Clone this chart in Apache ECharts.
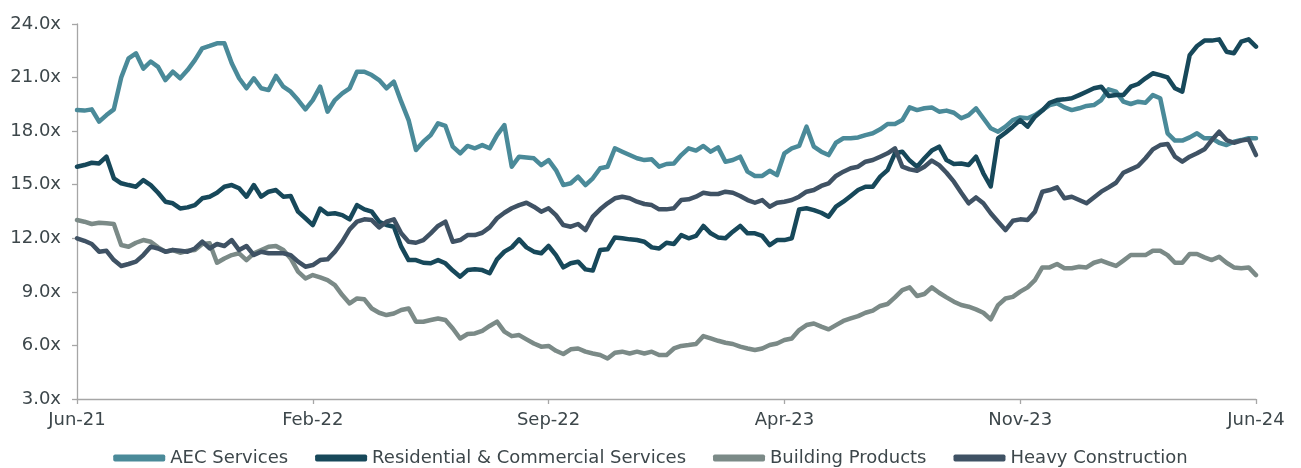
<!DOCTYPE html>
<html>
<head>
<meta charset="utf-8">
<script src="https://cdn.jsdelivr.net/npm/echarts@6/dist/echarts.min.js"></script>
<style>
html,body{margin:0;padding:0;background:#fff;}
#chart{width:1301px;height:468px;}
</style>
</head>
<body>
<div id="chart"></div>
<script>
const seriesNames = ['AEC Services','Residential & Commercial Services','Building Products','Heavy Construction'];
const tickLabels = ['Jun-21','Feb-22','Sep-22','Apr-23','Nov-23','Jun-24'];
const yTicks = [3,6,9,12,15,18,21,24];

const aec = [19.18,19.15,19.22,18.53,18.9,19.22,21.0,22.08,22.36,21.5,21.9,21.6,20.86,21.33,20.96,21.42,21.98,22.64,22.77,22.92,22.92,21.8,20.96,20.4,20.96,20.4,20.3,
21.09,20.49,20.21,19.74,19.22,19.74,20.49,19.09,19.74,20.12,20.4,21.33,21.33,21.14,20.86,20.4,20.77,19.65,18.62,16.94,17.41,17.78,18.44,18.29,17.13,16.76,17.17,
17.04,17.22,17.04,17.78,18.34,16.01,16.57,16.53,16.48,16.1,16.38,15.82,14.98,15.08,15.45,14.98,15.36,15.92,16.01,17.04,16.85,16.66,16.48,16.38,16.42,16.01,16.16,
16.19,16.66,17.04,16.91,17.17,16.85,17.09,16.29,16.38,16.57,15.73,15.49,15.49,15.78,15.54,16.76,17.04,17.17,18.25,17.13,16.85,16.66,17.35,17.6,17.6,17.65,17.78,
17.88,18.1,18.4,18.4,18.62,19.33,19.18,19.28,19.33,19.09,19.15,19.03,18.72,18.9,19.28,18.72,18.16,17.97,18.25,18.62,18.77,18.72,18.9,19.18,19.46,19.56,19.33,
19.18,19.28,19.41,19.46,19.74,20.34,20.21,19.65,19.52,19.65,19.59,20.02,19.84,17.88,17.47,17.47,17.65,17.88,17.6,17.6,17.35,17.22,17.41,17.5,17.6,17.6];

const residential = [16.01,16.1,16.23,16.19,16.57,15.36,15.08,14.98,14.89,15.26,14.98,14.55,14.05,13.96,13.67,13.73,13.86,14.24,14.33,14.55,14.89,14.98,14.8,14.33,14.98,14.33,14.61,
14.7,14.33,14.37,13.49,13.12,12.74,13.67,13.36,13.4,13.3,13.06,13.86,13.62,13.49,12.93,12.74,12.65,11.53,10.78,10.78,10.63,10.6,10.78,10.6,10.19,9.85,10.22,
10.26,10.22,10.04,10.82,11.25,11.49,11.94,11.49,11.25,11.16,11.57,11.06,10.37,10.6,10.69,10.26,10.19,11.34,11.38,12.05,12.0,11.94,11.9,11.81,11.49,11.43,11.75,
11.68,12.18,12.0,12.13,12.69,12.28,12.05,12.0,12.37,12.69,12.28,12.28,12.13,11.62,11.9,11.9,12.0,13.62,13.68,13.58,13.43,13.21,13.77,14.05,14.37,14.7,14.89,
14.89,15.45,15.82,16.76,16.85,16.35,16.01,16.48,16.91,17.13,16.38,16.16,16.19,16.1,16.57,15.64,14.9,17.6,17.91,18.25,18.62,18.25,18.81,19.15,19.59,19.74,19.78,
19.84,20.02,20.21,20.4,20.49,19.97,20.02,20.02,20.49,20.64,20.96,21.24,21.14,21.01,20.4,20.21,22.26,22.77,23.07,23.07,23.14,22.45,22.36,23.01,23.14,22.73];

const buildingProducts = [13.02,12.93,12.8,12.87,12.84,12.8,11.62,11.53,11.75,11.9,11.81,11.49,11.25,11.34,11.19,11.3,11.34,11.68,11.72,10.63,10.87,11.06,11.16,10.78,11.16,11.34,11.53,
11.57,11.34,10.87,10.13,9.75,9.94,9.81,9.66,9.38,8.82,8.35,8.63,8.58,8.07,7.83,7.7,7.79,7.98,8.07,7.33,7.33,7.42,7.51,7.42,6.95,6.39,6.64,
6.67,6.82,7.09,7.33,6.77,6.52,6.58,6.34,6.11,5.93,5.97,5.7,5.52,5.78,5.83,5.65,5.55,5.46,5.27,5.59,5.65,5.55,5.65,5.55,5.65,5.46,5.46,
5.83,5.97,6.02,6.08,6.52,6.39,6.26,6.15,6.08,5.93,5.83,5.74,5.83,6.02,6.11,6.3,6.39,6.86,7.14,7.23,7.05,6.9,7.14,7.37,7.51,7.64,7.83,
7.95,8.21,8.32,8.69,9.1,9.25,8.77,8.88,9.25,8.95,8.69,8.45,8.26,8.17,8.02,7.83,7.46,8.26,8.63,8.72,9.01,9.25,9.66,10.37,10.37,10.56,10.32,
10.32,10.41,10.37,10.63,10.75,10.6,10.45,10.75,11.06,11.06,11.06,11.3,11.3,11.06,10.63,10.63,11.12,11.12,10.93,10.78,10.97,10.63,10.37,10.32,10.37,9.94];

const heavy = [12.0,11.86,11.68,11.25,11.3,10.78,10.45,10.56,10.69,11.06,11.53,11.43,11.25,11.34,11.3,11.25,11.43,11.81,11.43,11.68,11.57,11.9,11.34,11.57,11.06,11.25,11.16,
11.16,11.16,11.06,10.69,10.41,10.5,10.78,10.82,11.25,11.81,12.5,12.93,13.06,13.02,12.61,12.93,13.06,12.28,11.81,11.75,11.9,12.28,12.69,12.93,11.81,11.9,12.18,
12.18,12.31,12.61,13.12,13.43,13.68,13.86,13.99,13.77,13.49,13.68,13.3,12.74,12.65,12.8,12.46,13.21,13.62,13.96,14.24,14.33,14.24,14.05,13.92,13.86,13.62,13.62,
13.68,14.14,14.18,14.33,14.55,14.48,14.48,14.61,14.55,14.37,14.14,13.99,14.14,13.77,13.99,14.05,14.14,14.33,14.61,14.7,14.93,15.08,15.49,15.73,15.92,16.01,16.29,
16.38,16.57,16.76,17.04,16.01,15.86,15.78,16.01,16.35,16.1,15.67,15.17,14.55,13.96,14.29,13.96,13.4,12.93,12.46,12.98,13.06,13.02,13.49,14.61,14.7,14.85,14.24,
14.33,14.14,13.96,14.29,14.61,14.85,15.11,15.67,15.86,16.05,16.48,16.98,17.22,17.28,16.57,16.29,16.57,16.76,16.98,17.5,17.97,17.5,17.35,17.47,17.54,16.66];

const colors = ['#4a8a99','#17485a','#7b8a87','#3f5264'];
const values = [aec, residential, buildingProducts, heavy];
const lastIndex = aec.length - 1;
const step = lastIndex / (tickLabels.length - 1);
const textColor = '#3d474b';
const font = 'DejaVu Sans';

const chart = echarts.init(document.getElementById('chart'), null, {renderer:'canvas'});
chart.setOption({
  animation: false,
  backgroundColor: '#ffffff',
  color: colors,
  grid: {left: 77, right: 45, top: 24, bottom: 69, containLabel: false},
  legend: {
    top: 444,
    left: 'center',
    itemWidth: 52,
    itemHeight: 7,
    itemGap: 27,
    icon: 'roundRect',
    textStyle: {color: textColor, fontFamily: font, fontSize: 18},
    data: seriesNames
  },
  xAxis: {
    type: 'value',
    min: 0,
    max: lastIndex,
    interval: step,
    splitLine: {show: false},
    axisLine: {show: true, lineStyle: {color: '#a6a6a6', width: 1.3}},
    axisTick: {show: true, length: 5, lineStyle: {color: '#a6a6a6', width: 1.3}},
    axisLabel: {
      margin: 12,
      color: textColor, fontFamily: font, fontSize: 18,
      formatter: v => tickLabels[Math.round(v / step)] || ''
    }
  },
  yAxis: {
    type: 'value',
    min: yTicks[0],
    max: yTicks[yTicks.length - 1],
    interval: 3,
    splitLine: {show: false},
    axisLine: {show: true, lineStyle: {color: '#a6a6a6', width: 1.3}},
    axisTick: {show: true, length: 5, lineStyle: {color: '#a6a6a6', width: 1.3}},
    axisLabel: {
      margin: 16,
      color: textColor, fontFamily: font, fontSize: 18,
      formatter: v => v.toFixed(1) + 'x'
    }
  },
  series: seriesNames.map((name, k) => ({
    name: name,
    type: 'line',
    showSymbol: false,
    symbol: 'none',
    smooth: false,
    lineStyle: {width: 4.5, color: colors[k], cap: 'round', join: 'round'},
    itemStyle: {color: colors[k]},
    data: values[k].map((v, i) => [i, v])
  }))
});
</script>
</body>
</html>
